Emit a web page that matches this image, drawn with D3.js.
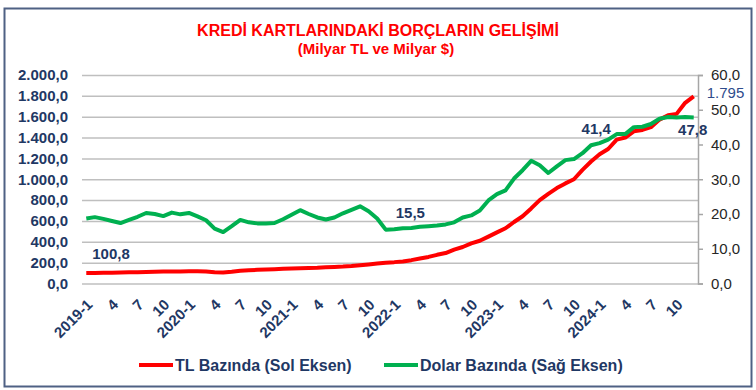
<!DOCTYPE html>
<html>
<head>
<meta charset="utf-8">
<script src="https://cdn.jsdelivr.net/npm/d3@7"></script>
<style>
  body { margin: 0; background: #fff; }
  text { font-family: Arial, "Liberation Sans", sans-serif; }
</style>
</head>
<body>
<script>
// monthly categories 2019-1 .. 2024-12
const years = [2019, 2020, 2021, 2022, 2023, 2024];
const months = [];
years.forEach(y => d3.range(1, 13).forEach(m => months.push({ y: y, m: m })));

// billion TL (left axis)
const tlValues = [
  100.8, 101, 102, 104, 105, 107, 109, 111, 112, 114, 115, 116,
  117, 118, 116, 109, 106, 113, 122, 128, 131, 134, 137, 141,
  144, 147, 149, 151, 155, 158, 162, 168, 176, 183, 191, 200,
  205, 212, 224, 240, 255, 275, 292, 325, 350, 385, 410, 450,
  490, 530, 590, 645, 720, 800, 860, 915, 960, 1000, 1090, 1170,
  1240, 1290, 1380, 1400, 1460, 1473, 1500, 1572, 1614, 1627, 1733, 1795
];
// billion $ (right axis)
const usdValues = [
  18.7, 19.1, 18.6, 18.0, 17.4, 18.3, 19.2, 20.3, 20.0, 19.4, 20.4, 19.9,
  20.3, 19.3, 18.2, 15.8, 14.8, 16.5, 18.3, 17.6, 17.3, 17.3, 17.4, 18.5,
  19.8, 21.1, 20.0, 19.0, 18.4, 19.0, 20.2, 21.2, 22.2, 20.8, 18.7, 15.5,
  15.6, 15.9, 16.0, 16.3, 16.5, 16.7, 17.0, 17.6, 19.0, 19.6, 21.0, 23.9,
  25.7, 26.8, 30.2, 32.6, 35.3, 34.0, 31.8, 33.7, 35.5, 35.8, 37.5, 39.8,
  40.4, 41.4, 43.0, 43.0, 45.0, 45.1, 45.9, 47.4, 47.9, 47.8, 47.9, 47.8
];
const leftTicks = d3.range(0, 2001, 200);
const rightTicks = d3.range(0, 61, 10);

const navy = "#1F3864";
const width = 756, height = 390;
const margin = { top: 75, right: 58, bottom: 106.5, left: 82 };

const svg = d3.select("body").append("svg")
  .attr("width", width).attr("height", height);

svg.append("rect")
  .attr("x", 4.5).attr("y", 8.5)
  .attr("width", 747).attr("height", 378)
  .attr("fill", "#fff")
  .attr("stroke", "#4F6184").attr("stroke-width", 2);

svg.append("text")
  .attr("x", 378).attr("y", 36)
  .attr("text-anchor", "middle")
  .attr("fill", "#FF0000").attr("font-weight", "bold").attr("font-size", 16)
  .text("KREDİ KARTLARINDAKİ BORÇLARIN GELİŞİMİ");
svg.append("text")
  .attr("x", 376).attr("y", 54)
  .attr("text-anchor", "middle")
  .attr("fill", "#FF0000").attr("font-weight", "bold").attr("font-size", 15)
  .text("(Milyar TL ve Milyar $)");

let xScale = d3.scaleBand()
  .domain(d3.range(months.length))
  .range([margin.left, width - margin.right]);
let yLeft = d3.scaleLinear()
  .domain([0, 2000])
  .range([height - margin.bottom, margin.top]);
let yRight = d3.scaleLinear()
  .domain([0, 60])
  .range([height - margin.bottom, margin.top]);
const cx = i => xScale(i) + xScale.bandwidth() / 2;

// gridlines + left axis
let leftAxis = d3.axisLeft(yLeft)
  .tickValues(leftTicks)
  .tickSize(-(width - margin.left - margin.right))
  .tickPadding(14)
  .tickFormat(d => d3.format(",.1f")(d).replace(/,/g, "#").replace(".", ",").replace(/#/g, "."));
let gLeft = svg.append("g")
  .attr("transform", `translate(${margin.left},0)`)
  .call(leftAxis);
gLeft.select(".domain").remove();
gLeft.selectAll(".tick line").attr("stroke", "#BFBFBF").attr("stroke-width", 1.5);
gLeft.selectAll(".tick text")
  .attr("fill", navy).attr("font-weight", "bold").attr("font-size", 15)
  .attr("font-family", "Arial, 'Liberation Sans', sans-serif");

// right axis
let rightAxis = d3.axisRight(yRight)
  .tickValues(rightTicks)
  .tickSize(5)
  .tickPadding(8)
  .tickFormat(d => d3.format(".1f")(d).replace(".", ","));
let gRight = svg.append("g")
  .attr("transform", `translate(${width - margin.right},0)`)
  .call(rightAxis);
gRight.select(".domain").attr("stroke", "#A6A6A6").attr("stroke-width", 1.5);
gRight.selectAll(".tick line").attr("stroke", "#A6A6A6").attr("stroke-width", 1.5);
gRight.selectAll(".tick text")
  .attr("fill", "#262626").attr("font-size", 15)
  .attr("font-family", "Arial, 'Liberation Sans', sans-serif");

// x axis labels, every 3 months
let xAxis = d3.axisBottom(xScale)
  .tickValues(d3.range(0, months.length, 3))
  .tickSize(0)
  .tickFormat(i => months[i].m === 1 ? `${months[i].y}-1` : `${months[i].m}`);
let gX = svg.append("g")
  .attr("transform", `translate(0,${height - margin.bottom})`)
  .call(xAxis);
gX.select(".domain").remove();
gX.selectAll(".tick text")
  .attr("fill", navy).attr("font-weight", "bold").attr("font-size", 15)
  .attr("font-family", "Arial, 'Liberation Sans', sans-serif")
  .attr("text-anchor", "end")
  .attr("dy", null)
  .attr("transform", "translate(5,20) rotate(-45)");

// lines
let tlLine = d3.line().x((d, i) => cx(i)).y(d => yLeft(d));
let usdLine = d3.line().x((d, i) => cx(i)).y(d => yRight(d));

svg.append("path")
  .datum(tlValues)
  .attr("fill", "none").attr("stroke", "#FF0000")
  .attr("stroke-width", 4).attr("stroke-linejoin", "round")
  .attr("d", tlLine);
svg.append("path")
  .datum(usdValues)
  .attr("fill", "none").attr("stroke", "#00B050")
  .attr("stroke-width", 4).attr("stroke-linejoin", "round")
  .attr("d", usdLine);

// data labels
const fmt1 = d => d3.format(".1f")(d).replace(".", ",");
const labels = [
  { i: 0, v: tlValues[0], y: yLeft, dx: 6, dy: -14, anchor: "start", text: fmt1(tlValues[0]), bold: true, color: navy },
  { i: 35, v: usdValues[35], y: yRight, dx: 10, dy: -12, anchor: "start", text: fmt1(usdValues[35]), bold: true, color: navy },
  { i: 61, v: usdValues[61], y: yRight, dx: -12, dy: -6, anchor: "middle", text: fmt1(usdValues[61]), bold: true, color: navy },
  { i: 71, v: usdValues[71], y: yRight, dx: -1, dy: 18, anchor: "middle", text: fmt1(usdValues[71]), bold: true, color: navy },
  { i: 71, v: tlValues[71], y: yLeft, dx: 13, dy: 2, anchor: "start", text: d3.format(",")(tlValues[71]).replace(",", "."), bold: false, color: "#2F4C8C" }
];
svg.append("g").selectAll("text")
  .data(labels)
  .enter()
  .append("text")
  .attr("x", d => cx(d.i) + d.dx)
  .attr("y", d => d.y(d.v) + d.dy)
  .attr("text-anchor", d => d.anchor)
  .attr("fill", d => d.color)
  .attr("font-weight", d => d.bold ? "bold" : "normal")
  .attr("font-size", 15)
  .text(d => d.text);

// legend
const legendItems = [
  { name: "TL Bazında (Sol Eksen)", color: "#FF0000", x: 139 },
  { name: "Dolar Bazında (Sağ Eksen)", color: "#00B050", x: 384 }
];
let legend = svg.append("g").selectAll("g")
  .data(legendItems)
  .enter()
  .append("g")
  .attr("transform", d => `translate(${d.x},365)`);
legend.append("line")
  .attr("x1", 0).attr("x2", 34)
  .attr("stroke", d => d.color).attr("stroke-width", 4);
legend.append("text")
  .attr("x", 36).attr("y", 6)
  .attr("fill", navy).attr("font-weight", "bold").attr("font-size", 16)
  .text(d => d.name);
</script>
</body>
</html>
